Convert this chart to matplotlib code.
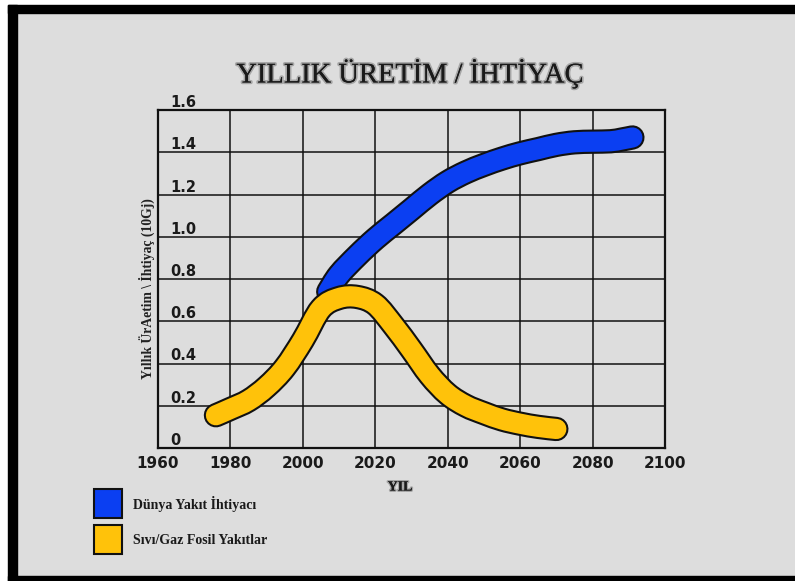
import numpy as np
from matplotlib import pyplot as plt
import matplotlib.patches as mpatches
import matplotlib.patheffects as pe
import matplotlib.transforms as mtransforms
from matplotlib.path import Path

# data
demand_years = [2007, 2010, 2015, 2020, 2025, 2030, 2035, 2040, 2045, 2050, 2055,
                2060, 2065, 2070, 2075, 2080, 2085, 2088, 2091]
demand_vals = [0.74, 0.82, 0.91, 0.99, 1.06, 1.13, 1.20, 1.26, 1.305, 1.34, 1.37,
               1.395, 1.415, 1.435, 1.447, 1.45, 1.452, 1.46, 1.47]

fossil_years = [1976, 1980, 1985, 1990, 1995, 2000, 2005, 2010, 2015, 2020, 2025,
                2030, 2035, 2040, 2045, 2050, 2055, 2060, 2065, 2070]
fossil_vals = [0.155, 0.185, 0.225, 0.29, 0.38, 0.51, 0.66, 0.71, 0.715, 0.68, 0.58,
               0.465, 0.345, 0.255, 0.20, 0.165, 0.135, 0.115, 0.1, 0.09]

xticks = [1960, 1980, 2000, 2020, 2040, 2060, 2080, 2100]
yticks = [0, 0.2, 0.4, 0.6, 0.8, 1.0, 1.2, 1.4, 1.6]
ytick_labels = ['0', '0.2', '0.4', '0.6', '0.8', '1.0', '1.2', '1.4', '1.6']

title = 'YILLIK ÜRETİM / İHTİYAÇ'
xlabel = 'YIL'
ylabel = 'Yıllık ÜrAetim \\ İhtiyaç (10Gj)'
series_names = ['Dünya Yakıt İhtiyacı', 'Sıvı/Gaz Fosil Yakıtlar']
series_colors = ['#0b3ff2', '#ffc20a']

num_font = ['DejaVu Sans Condensed', 'Liberation Sans Narrow', 'DejaVu Sans']

W, H = 795, 581
fig = plt.figure(figsize=(W / 100, H / 100), dpi=100)
fig.patch.set_facecolor('#dddddd')

# frame: white margin + black border on left, top, bottom
def px_rect(x0, y0, x1, y1, color):
    fig.patches.append(mpatches.Rectangle((x0 / W, 1 - y1 / H), (x1 - x0) / W, (y1 - y0) / H,
                                          transform=fig.transFigure, color=color, zorder=0))

px_rect(0, 0, 8, H, 'white')
px_rect(0, 0, W, 5, 'white')
px_rect(8, 5, 17, H, 'black')
px_rect(8, 5, W, 13, 'black')
px_rect(8, 576, W, H, 'black')

ax = fig.add_axes([158 / W, 1 - 448 / H, (665 - 158) / W, (448 - 110) / H])
ax.set_facecolor('none')
ax.set_xlim(1960, 2100)
ax.set_ylim(0, 1.6)
ax.set_xticks(xticks)
ax.set_yticks(yticks)
ax.set_yticklabels([])
ax.grid(True, color='#111111', linewidth=1.1)
ax.set_axisbelow(True)
for s in ax.spines.values():
    s.set_linewidth(1.6)
    s.set_color('#111111')
ax.tick_params(length=0, pad=6)
for lab in ax.get_xticklabels():
    lab.set_family(num_font)
    lab.set_fontweight('bold')
    lab.set_fontsize(11)
    lab.set_color('#1a1a1a')

# y tick labels sit inside the plot, just above each grid line
trans = mtransforms.blended_transform_factory(ax.transAxes, ax.transData)
for v, t in zip(yticks, ytick_labels):
    ax.text(0.024, v, t, transform=trans, ha='left', va='bottom',
            family=num_font, fontweight='bold', fontsize=10.5, color='#1a1a1a', clip_on=False)

def smooth_path(xs, ys):
    # Catmull-Rom through the read points, as cubic Bezier segments
    p = np.column_stack([xs, ys]).astype(float)
    p = np.vstack([p[0], p, p[-1]])
    verts = [p[1]]
    codes = [Path.MOVETO]
    for i in range(1, len(p) - 2):
        c1 = p[i] + (p[i + 1] - p[i - 1]) / 6
        c2 = p[i + 1] - (p[i + 2] - p[i]) / 6
        verts += [c1, c2, p[i + 1]]
        codes += [Path.CURVE4] * 3
    return Path(verts, codes)

def thick_line(xs, ys, color, z):
    patch = mpatches.PathPatch(smooth_path(xs, ys), facecolor='none', edgecolor=color,
                               lw=14.5, capstyle='round', joinstyle='round',
                               clip_on=False, zorder=z,
                               path_effects=[pe.Stroke(linewidth=17.5, foreground='#111111',
                                                       capstyle='round', joinstyle='round'),
                                             pe.Normal()])
    ax.add_patch(patch)

thick_line(demand_years, demand_vals, series_colors[0], 3)
thick_line(fossil_years, fossil_vals, series_colors[1], 4)

# title with soft shadow
fig.text(410 / W, 1 - 74 / H, title, ha='center', va='center', family='Liberation Serif',
         fontsize=20.5, color='#1a1a1a',
         path_effects=[pe.withStroke(linewidth=2.5, foreground=(0, 0, 0, 0.25))])

fig.text(400 / W, 1 - 487 / H, xlabel, ha='center', va='center', family='Liberation Serif',
         fontweight='bold', fontsize=10, color='#1a1a1a',
         path_effects=[pe.withStroke(linewidth=2, foreground=(0, 0, 0, 0.25))])
fig.text(147 / W, 1 - 289 / H, ylabel, ha='center', va='center', rotation=90,
         family='Liberation Serif', fontweight='bold', fontsize=9.8, color='#222222')

# legend boxes
for i, (name, c) in enumerate(zip(series_names, series_colors)):
    y0 = 489 + i * 36
    fig.patches.append(mpatches.Rectangle((94 / W, 1 - (y0 + 29) / H), 28 / W, 29 / H,
                                          transform=fig.transFigure, facecolor=c,
                                          edgecolor='#111111', linewidth=1.5, zorder=2))
    fig.text(133 / W, 1 - (y0 + 15) / H, name, ha='left', va='center',
             family='Liberation Serif', fontweight='bold', fontsize=10, color='#1a1a1a')

fig.savefig('out.png', dpi=100, facecolor=fig.get_facecolor())
